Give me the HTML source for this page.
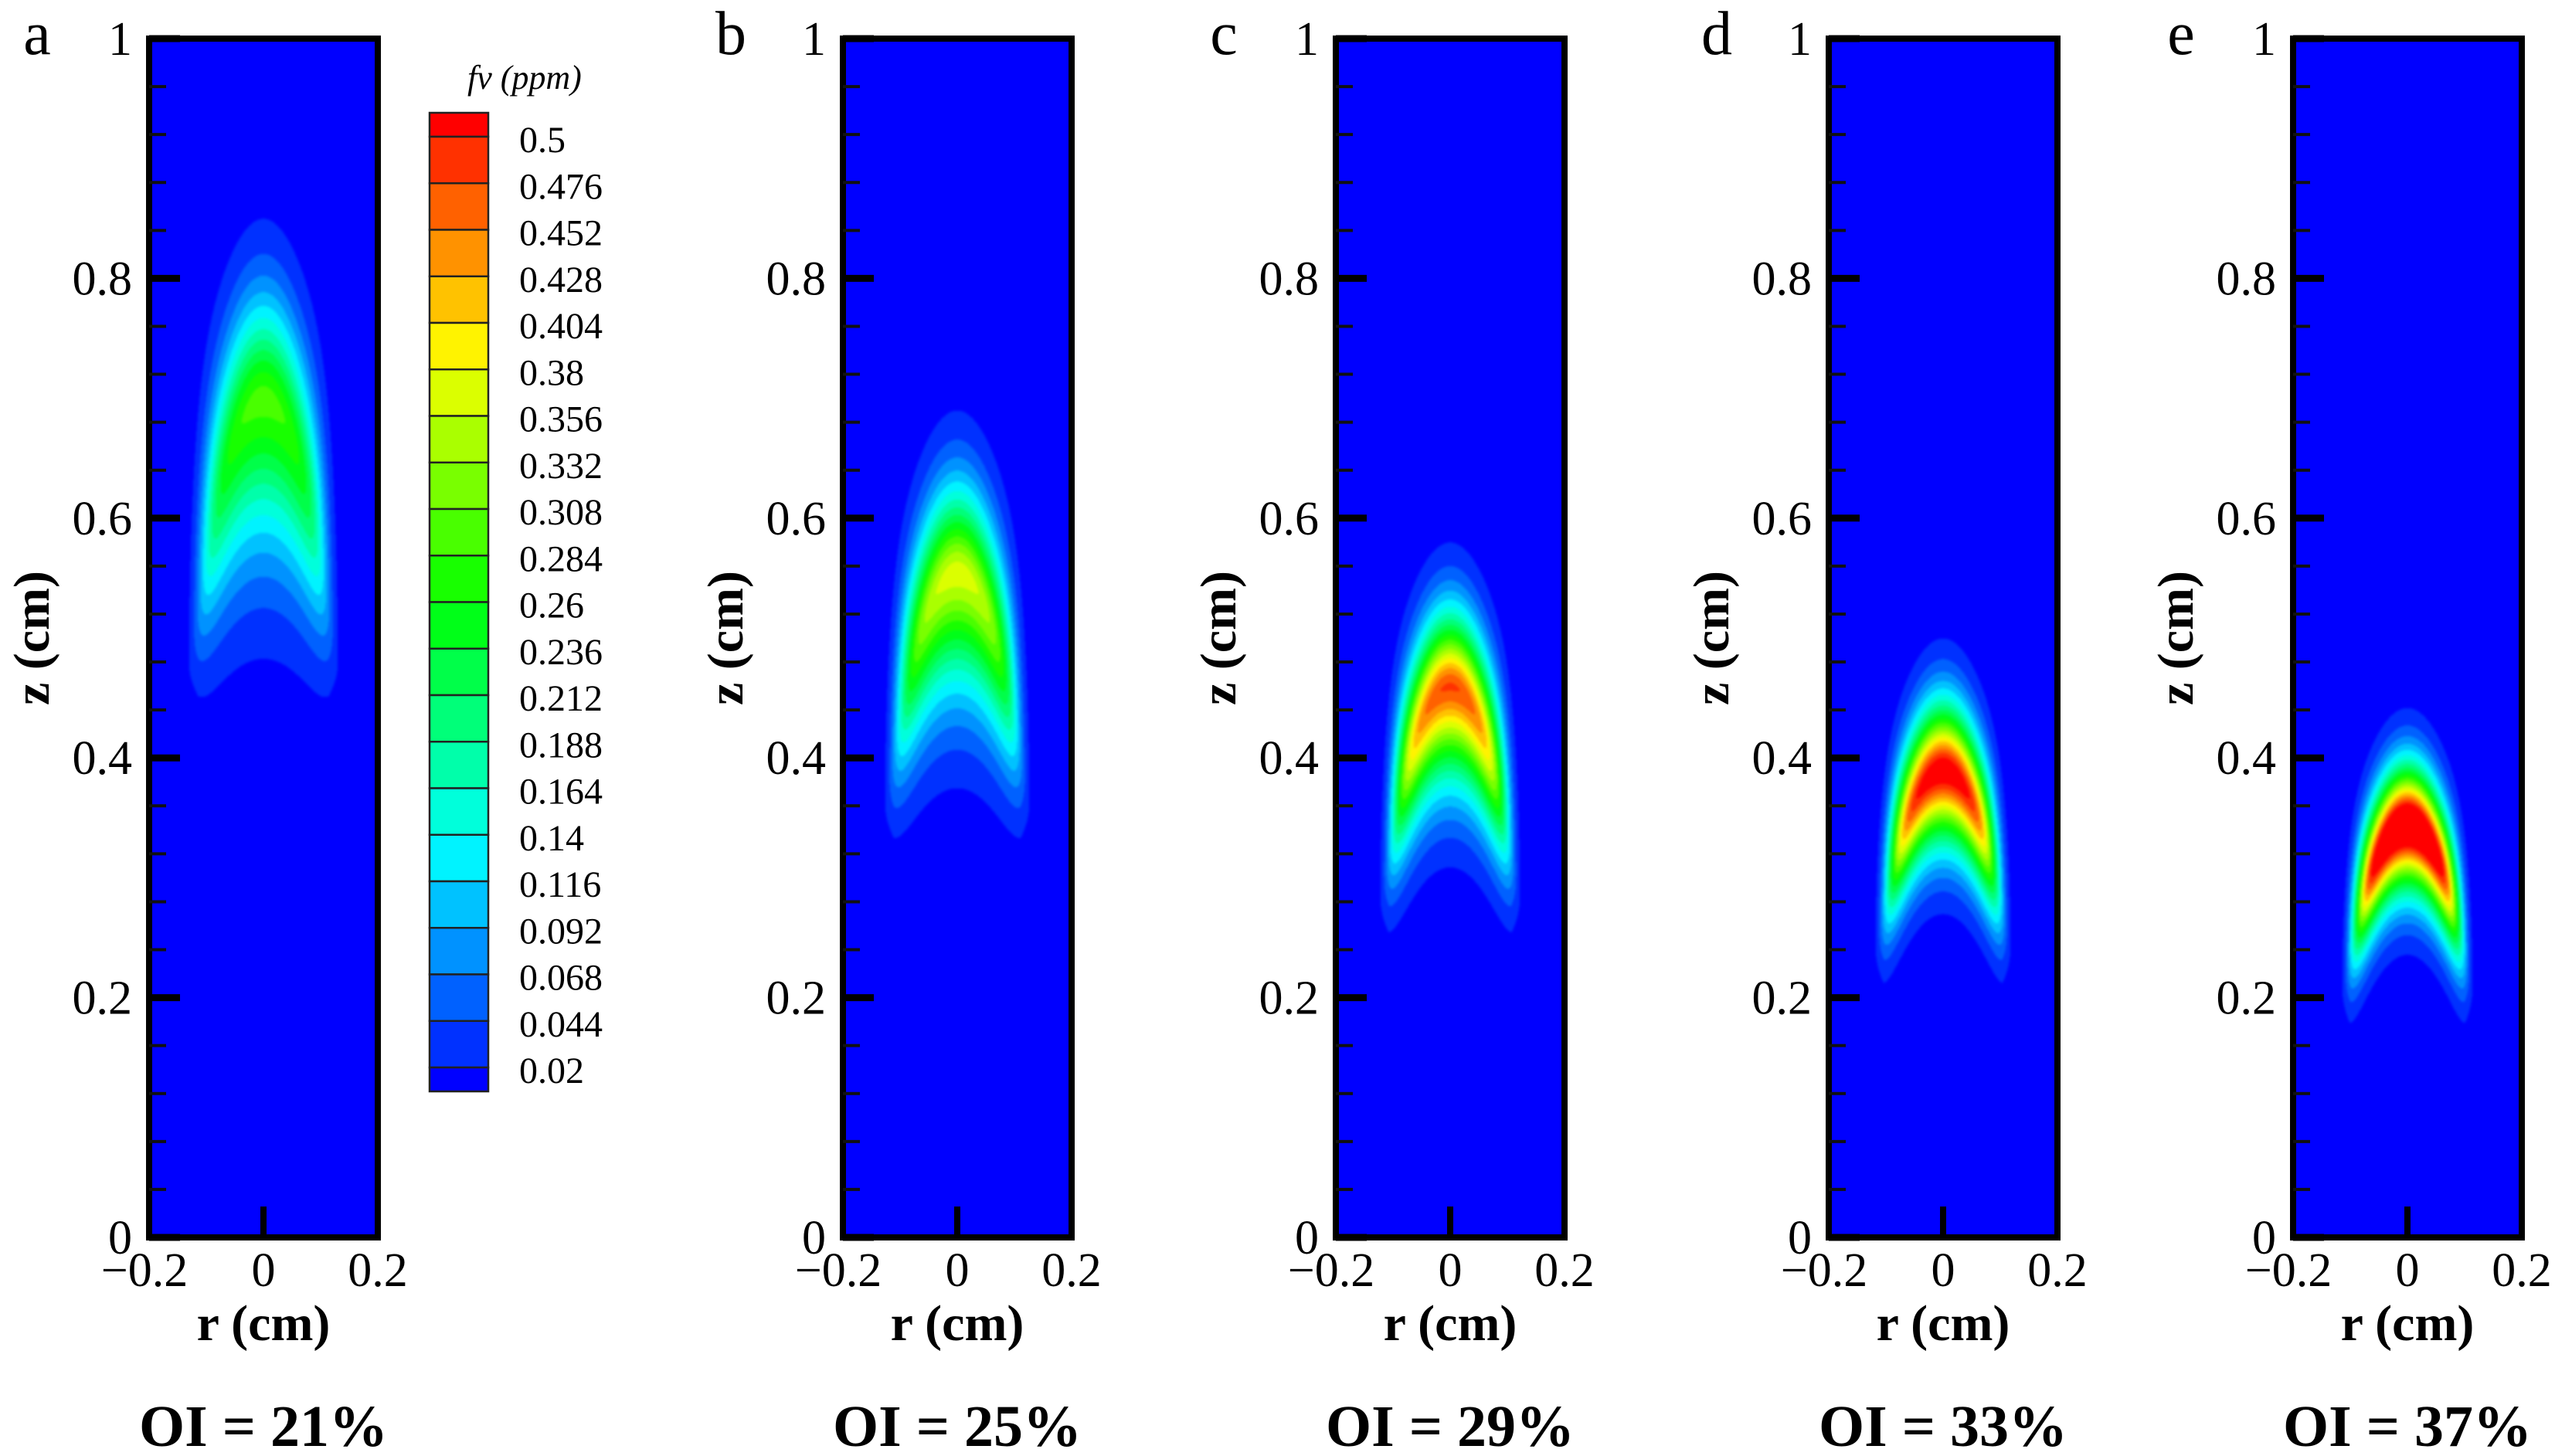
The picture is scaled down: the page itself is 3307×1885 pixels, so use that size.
<!DOCTYPE html>
<html><head><meta charset="utf-8">
<style>
html,body{margin:0;padding:0;background:#fff;}
#root{position:relative;width:3307px;height:1885px;overflow:hidden;background:#fff;}
canvas{position:absolute;filter:blur(1.6px);}
svg{position:absolute;left:0;top:0;}
text{font-family:"Liberation Serif",serif;fill:#000;}
</style></head>
<body>
<div id="root">
<svg id="ov" width="3307" height="1885"></svg>
</div>
<script>
// ---- data ----
const panelLetters = ['a','b','c','d','e'];
const oiLabels = ['OI = 21%','OI = 25%','OI = 29%','OI = 33%','OI = 37%'];
const peakValues = [0.295, 0.37, 0.48, 0.54, 0.62];
const peakZ = [0.70, 0.555, 0.46, 0.39, 0.345];
const topZ = [0.85, 0.69, 0.58, 0.50, 0.442];
const bottomCenterZ = [0.483, 0.375, 0.309, 0.27, 0.236];
const bottomEdgeZ = [0.432, 0.315, 0.237, 0.196, 0.163];
const outerR = [0.13, 0.126, 0.122, 0.118, 0.114];
const levelLabels = ['0.5','0.476','0.452','0.428','0.404','0.38','0.356','0.332','0.308','0.284','0.26','0.236','0.212','0.188','0.164','0.14','0.116','0.092','0.068','0.044','0.02'];
const yTickLabels = ['0','0.2','0.4','0.6','0.8','1'];
const yTickValues = [0,0.2,0.4,0.6,0.8,1];
const xTickLabels = ['\u22120.2','0','0.2'];
const xTickValues = [-0.2,0,0.2];

// ---- layout ----
const panelCenters = [341,1239,1877,2515,3116];
const PW = 296, TOP = 50, BOT = 1602;
const NS = 'http://www.w3.org/2000/svg';
const ov = document.getElementById('ov');
const root = document.getElementById('root');
function yS(z){return BOT - z*(BOT-TOP);}
function el(tag, attrs, parent){const e=document.createElementNS(NS,tag);for(const k in attrs)e.setAttribute(k,attrs[k]);(parent||ov).appendChild(e);return e;}
const lvMin=0.02, lvStep=0.024;
function bandColor(b){const h=240*(1-b/21);return 'hsl('+h+',100%,50%)';}
function hsl2rgb(h){h/=60;const c=1,x=c*(1-Math.abs(h%2-1));let r=0,g=0,bb=0;
 if(h<1){r=c;g=x;}else if(h<2){r=x;g=c;}else if(h<3){g=c;bb=x;}else if(h<4){g=x;bb=c;}else if(h<5){r=x;bb=c;}else{r=c;bb=x;}
 return [Math.round(r*255),Math.round(g*255),Math.round(bb*255)];}
const bandRGB=[];for(let b=0;b<=21;b++)bandRGB.push(hsl2rgb(240*(1-b/21)));

function field(i,r,z){
  const t=Math.abs(r)/outerR[i]; if(t>=1) return 0;
  const pk=peakValues[i];
  const zP=peakZ[i]-(peakZ[i]-(bottomEdgeZ[i]+0.05))*t*t;
  const tb=Math.min(t/0.88,1);
  const zB=bottomCenterZ[i]-(bottomCenterZ[i]-bottomEdgeZ[i])*tb*tb;
  const zU=topZ[i]-(topZ[i]-(peakZ[i]-0.01))*t*t;
  let u;
  if(z>=zP) u=(z-zP)/Math.max(zU-zP,1e-3); else u=(zP-z)/Math.max(zP-zB,1e-3);
  const ue=Math.sqrt(u*u+Math.pow(t,8));
  const A=pk*(1-0.42*t*t);
  if(ue>=1) return 0.01;
  return A*Math.pow(0.02/A, Math.pow(ue,1.6));
}

panelCenters.forEach((cx,i)=>{
  const L=cx-PW/2, R=cx+PW/2;
  const cv=document.createElement('canvas');
  cv.width=PW; cv.height=BOT-TOP;
  cv.style.left=L+'px'; cv.style.top=TOP+'px';
  
  
  root.insertBefore(cv, ov);
  const ctx=cv.getContext('2d'); const img=ctx.createImageData(cv.width,cv.height);
  for(let py=0;py<cv.height;py++){
    const z=1-py/(cv.height);
    for(let px=0;px<cv.width;px++){
      const r=-0.2+0.4*(px+0.5)/cv.width;
      const v=field(i,r,z);
      let b; if(v<lvMin) b=0; else b=Math.min(21,1+Math.floor((v-lvMin)/lvStep));
      const c=bandRGB[b]; const k=(py*cv.width+px)*4;
      img.data[k]=c[0];img.data[k+1]=c[1];img.data[k+2]=c[2];img.data[k+3]=255;
    }
  }
  ctx.putImageData(img,0,0);
  const g=el('g',{});  
  const fr=el('rect',{x:L,y:TOP,width:PW,height:BOT-TOP,fill:'none',stroke:'#000','stroke-width':8},g);
   
  for(let m=0;m<=25;m++){const z=m*0.04; if(Math.abs(z*5-Math.round(z*5))<1e-6) continue;
    const t=el('line',{x1:L,x2:L+22,y1:yS(z),y2:yS(z),stroke:'#111','stroke-width':4},g);
     }
  yTickValues.forEach((z,j)=>{
    const t=el('line',{x1:L,x2:L+40,y1:yS(z),y2:yS(z),stroke:'#000','stroke-width':9},g);
     
    const tx=el('text',{x:L-22,y:yS(z)+21,'font-size':62,'text-anchor':'end'},g);
    tx.textContent=yTickLabels[j];
     
  });
  const xt=el('line',{x1:cx,x2:cx,y1:BOT,y2:BOT-40,stroke:'#000','stroke-width':8},g);
   
  xTickValues.forEach((r,j)=>{
    const x=cx+r/0.4*PW - (j===0?6:0);
    const tx=el('text',{x:x,y:1665,'font-size':62,'text-anchor':'middle'},g);
    tx.textContent=xTickLabels[j];
     
  });
  const xl=el('text',{x:cx,y:1735,'font-size':66,'font-weight':'bold','text-anchor':'middle'},g);
  xl.textContent='r (cm)';
   
  const yl=el('text',{x:0,y:0,'font-size':66,'font-weight':'bold','text-anchor':'middle',transform:'translate('+(L-130)+',826) rotate(-90)'},g);
  yl.textContent='z (cm)';
   
  const pl=el('text',{x:L-145,y:70,'font-size':80,'text-anchor':'middle'},g);
  pl.textContent=panelLetters[i];
   
  const oi=el('text',{x:cx,y:1872,'font-size':76,'font-weight':'bold','text-anchor':'middle'},g);
  oi.textContent=oiLabels[i];
   
});

// ---- colorbar ----
const cb=el('g',{});  
const cbL=556, cbW=76, cbTop=146, cbStep=60.25, cbFirst=177;
for(let b=21;b>=0;b--){
  let y0,y1;
  if(b===21){y0=cbTop;y1=cbFirst;}
  else if(b===0){y0=cbFirst+20*cbStep;y1=y0+31;}
  else {y0=cbFirst+(20-b)*cbStep;y1=y0+cbStep;}
  const rc=el('rect',{x:cbL,y:y0,width:cbW,height:y1-y0,fill:bandColor(b),stroke:'#222','stroke-width':2.5},cb);
   
}
levelLabels.forEach((s,j)=>{
  const t=el('text',{x:672,y:cbFirst+j*cbStep+20,'font-size':48},cb);
  t.textContent=s;
   
});
const ct=el('text',{x:605,y:115,'font-size':44,'font-style':'italic'},cb);
ct.textContent='fv (ppm)';
 
</script>
</body></html>
